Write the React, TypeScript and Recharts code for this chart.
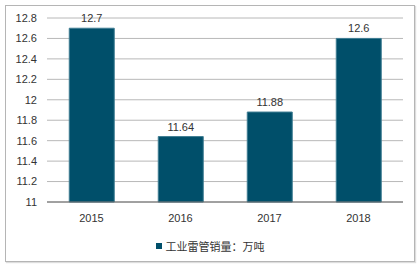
import { Bar, BarChart, CartesianGrid, LabelList, XAxis, YAxis } from "recharts";

const years = ["2015", "2016", "2017", "2018"];
const sales = [12.7, 11.64, 11.88, 12.6];
const yTicks = [11, 11.2, 11.4, 11.6, 11.8, 12, 12.2, 12.4, 12.6, 12.8];
const seriesName = "工业雷管销量：万吨";

const data = years.map((year, i) => ({ year, value: sales[i] }));

const BAR_COLOR = "#004f6a";
const FONT = "'Liberation Sans', Arial, sans-serif";

const LegendBox = () => (
  <div
    style={{
      position: "absolute",
      left: 0,
      top: 239,
      width: 420,
      display: "flex",
      justifyContent: "center",
      alignItems: "center",
      fontSize: 11,
      lineHeight: "14px",
      color: "#333",
    }}
  >
    <span
      style={{
        display: "inline-block",
        width: 6,
        height: 6,
        background: BAR_COLOR,
        marginRight: 4,
      }}
    />
    <span style={{ fontFamily: "'Noto Sans CJK SC', sans-serif" }}>{seriesName}</span>
  </div>
);

export default function App() {
  return (
    <div
      style={{
        position: "absolute",
        left: 0,
        top: 0,
        width: 420,
        height: 270,
        background: "#fff",
      }}
    >
      <div
        style={{
          position: "absolute",
          left: 5,
          top: 5,
          width: 408,
          height: 255,
          border: "1px solid #b5b5b5",
          boxShadow: "1px 1px 1px #ddd",
        }}
      />
      <div style={{ position: "absolute", left: 0, top: 0 }}>
        <BarChart
          width={420}
          height={270}
          data={data}
          margin={{ top: 18, right: 17, bottom: 0, left: 0 }}
          barCategoryGap="25%"
        >
          <CartesianGrid vertical={false} stroke="#b8b8b8" />
          <XAxis
            dataKey="year"
            height={68}
            axisLine={{ stroke: "#666" }}
            tickLine={false}
            tickMargin={6}
            tick={{ fontSize: 11, fill: "#333", fontFamily: FONT }}
          />
          <YAxis
            width={47}
            domain={[11, 12.8]}
            ticks={yTicks}
            interval={0}
            axisLine={false}
            tickLine={false}
            tickMargin={4}
            tick={{ fontSize: 11, fill: "#333", fontFamily: FONT }}
          />
          <Bar
            dataKey="value"
            name={seriesName}
            fill={BAR_COLOR}
            stroke="#3f7d93"
            strokeWidth={1}
            isAnimationActive={false}
          >
            <LabelList
              dataKey="value"
              position="top"
              offset={6}
              style={{ fontSize: 11, fill: "#333", fontFamily: FONT }}
            />
          </Bar>
        </BarChart>
      </div>
      <LegendBox />
    </div>
  );
}
